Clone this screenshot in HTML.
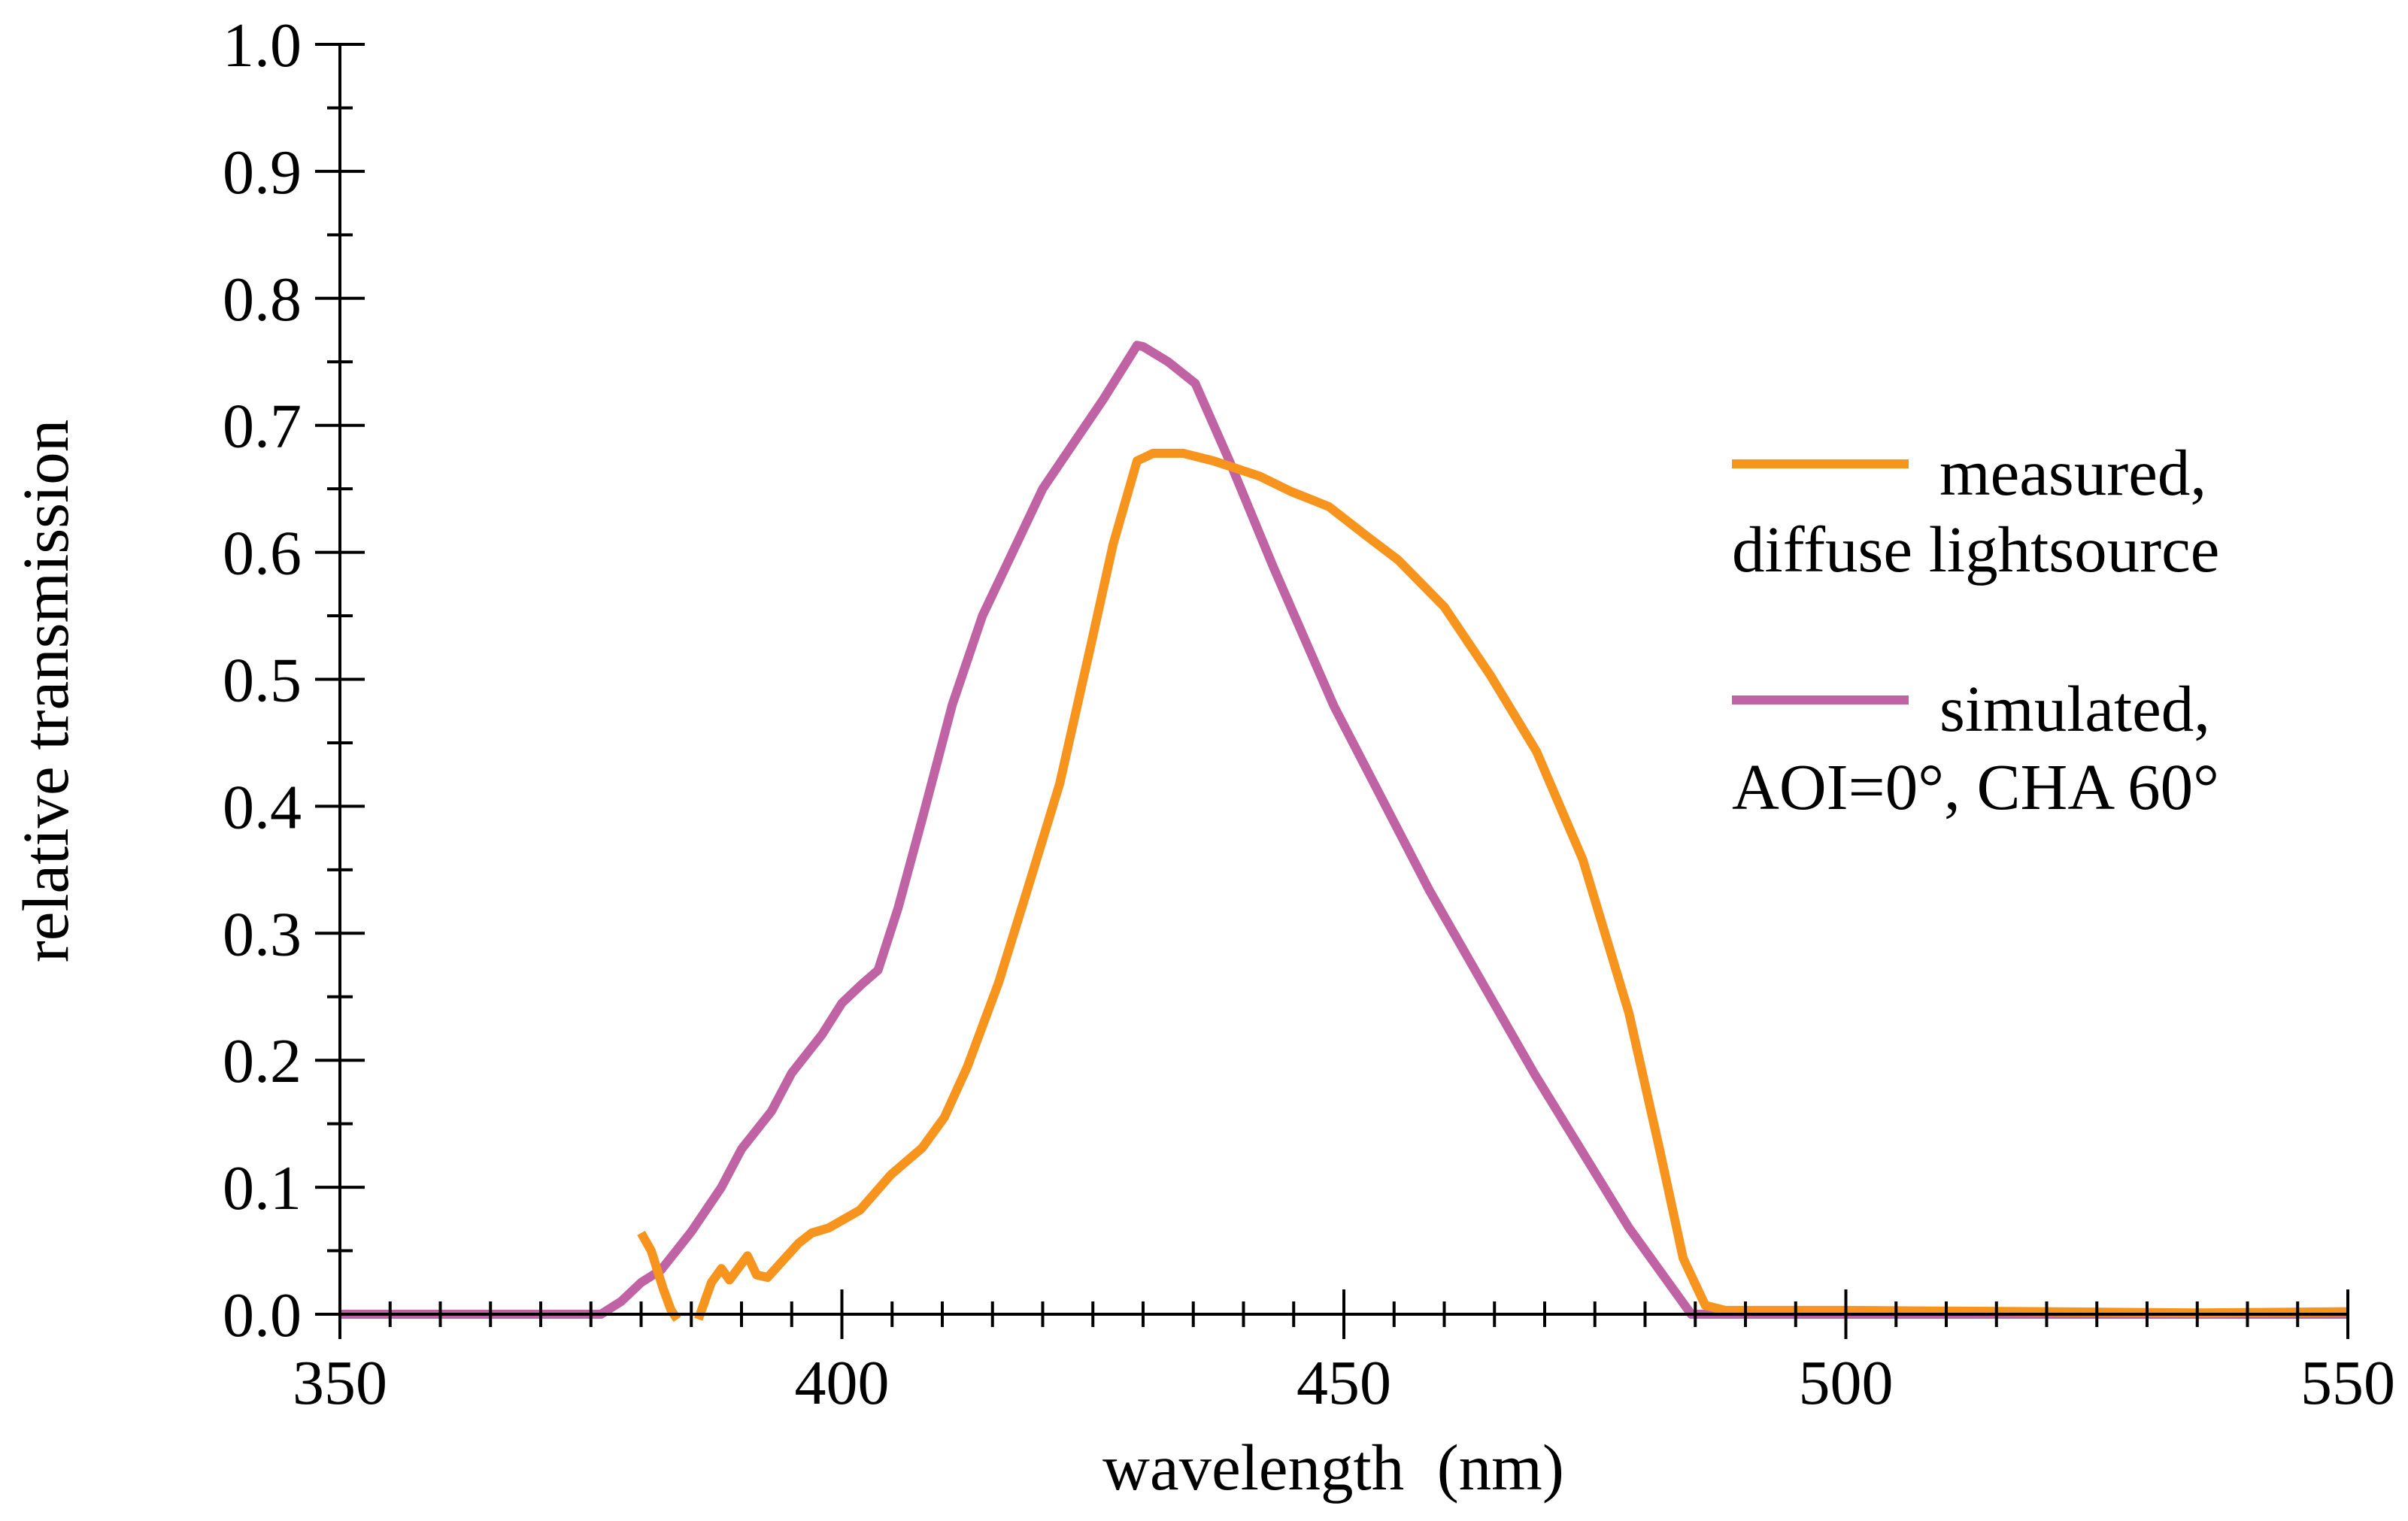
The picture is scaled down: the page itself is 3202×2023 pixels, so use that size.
<!DOCTYPE html>
<html><head><meta charset="utf-8"><style>
html,body{margin:0;padding:0;background:#fff}
svg{display:block}
text{font-family:"Liberation Serif","DejaVu Serif",serif;fill:#000}
</style></head><body>
<svg id="chart" width="3202" height="2023" viewBox="0 0 3202 2023" xmlns="http://www.w3.org/2000/svg">
<g id="series"></g>
<g id="axes"></g>
<g id="legend">
  <line x1="2303" y1="617" x2="2538" y2="617" stroke="#F7941E" stroke-width="12"/>
  <text x="2579" y="658" font-size="87">measured,</text>
  <text x="2303" y="760" font-size="87">diffuse lightsource</text>
  <line x1="2303" y1="931" x2="2538" y2="931" stroke="#C063A4" stroke-width="12"/>
  <text x="2579" y="972" font-size="87">simulated,</text>
  <text x="2303" y="1076" font-size="87">AOI=0°, CHA 60°</text>
</g>
<text x="1773" y="1981" font-size="87" text-anchor="middle" xml:space="preserve">wavelength  (nm)</text>
<text transform="translate(90,919) rotate(-90)" font-size="87" text-anchor="middle">relative transmission</text>
</svg>
<script>
const simX = [350,376,378,380,382,385,388,390,393,395,398,400,402,403.6,405.6,408,411,414,417,420,423,426,429.4,430,432.5,435.2,438.6,443,449,458.5,469,478.4,484.6,490,550];
const simY = [0,0,0.01,0.025,0.035,0.065,0.1,0.13,0.16,0.19,0.22,0.245,0.26,0.271,0.32,0.39,0.48,0.55,0.60,0.65,0.685,0.72,0.763,0.762,0.75,0.733,0.672,0.588,0.479,0.334,0.189,0.068,0,0,0];
const measX = [380,381,382.2,383,383.6,null,385.7,387,388,388.8,390.6,391.5,392.6,395.7,397,398.7,401.8,404.9,408,410.2,412.5,415.6,418.7,421.7,424.8,427,429.4,431,434,437,441.6,444.7,448.5,452.4,455.4,460,464.6,469.2,473.8,478.4,481.5,483.8,486,488,500,520,535,550];
const measY = [0.064,0.05,0.02,0.003,-0.004,null,-0.004,0.025,0.036,0.027,0.046,0.031,0.029,0.056,0.064,0.068,0.082,0.11,0.131,0.155,0.195,0.261,0.34,0.418,0.527,0.606,0.672,0.678,0.678,0.672,0.66,0.648,0.636,0.612,0.594,0.557,0.503,0.443,0.358,0.237,0.128,0.044,0.007,0.003,0.003,0.002,0.001,0.002];
const xTicks = [350,400,450,500,550];
const yTicks = [0.0,0.1,0.2,0.3,0.4,0.5,0.6,0.7,0.8,0.9,1.0];

const NS="http://www.w3.org/2000/svg";
function sx(v){return 452+(v-350)*(3122-452)/200;}
function sy(v){return 1748-v*1689;}
function mk(tag,attrs,parent){const e=document.createElementNS(NS,tag);for(const k in attrs)e.setAttribute(k,attrs[k]);parent.appendChild(e);return e;}
const series=document.getElementById('series'), axes=document.getElementById('axes');

function drawLine(xs,ys,color,name){
  let d='',pen=false;
  for(let i=0;i<xs.length;i++){
    if(xs[i]===null){pen=false;continue;}
    d+=(pen?'L':'M')+sx(xs[i]).toFixed(1)+','+sy(ys[i]).toFixed(1);pen=true;
  }
  const p=mk('path',{d:d,fill:'none',stroke:color,'stroke-width':12,'stroke-linejoin':'round'},series);
  
  
}
drawLine(simX,simY,'#C063A4','simulated-line');
drawLine(measX,measY,'#F7941E','measured-line');

const yl=mk('line',{x1:452,y1:58,x2:452,y2:1748,stroke:'#000','stroke-width':4},axes);


const xl=mk('line',{x1:420,y1:1748,x2:3122,y2:1748,stroke:'#000','stroke-width':4},axes);


for(let v=350;v<=550;v+=5){
  const major=(v%50===0);
  const L=major?33:17, x=sx(v);
  const t=mk('line',{x1:x,y1:1748-L,x2:x,y2:1748+L,stroke:'#000','stroke-width':4},axes);
  
  
}
xTicks.forEach(v=>{
  const t=mk('text',{x:sx(v),y:1867,'font-size':84,'text-anchor':'middle'},axes);
  t.textContent=String(v);
  
  
});
for(let i=0;i<=20;i++){
  const v=i*0.05, major=(i%2===0), L=major?33:17, y=sy(v);
  const t=mk('line',{x1:452-L,y1:y,x2:452+L,y2:y,stroke:'#000','stroke-width':4},axes);
  
  
}
yTicks.forEach(v=>{
  const t=mk('text',{x:401,y:sy(v)+29,'font-size':84,'text-anchor':'end'},axes);
  t.textContent=v.toFixed(1);
  
  
});
</script>
</body></html>
